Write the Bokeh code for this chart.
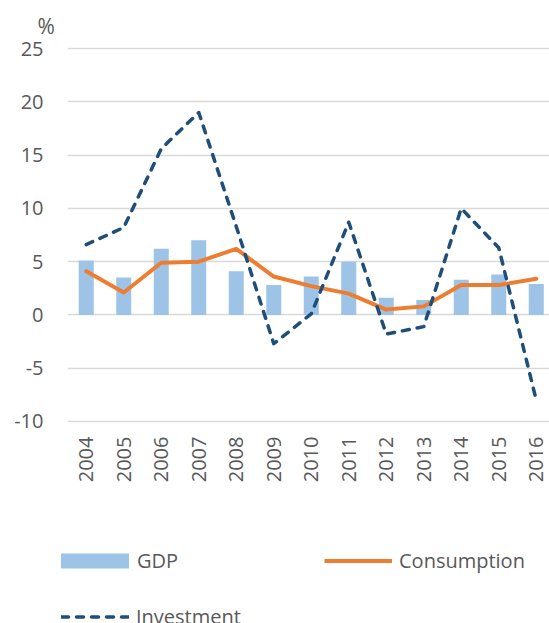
from math import pi
from bokeh.plotting import figure
from bokeh.layouts import column, row
from bokeh.models import Range1d, FixedTicker, Legend, LegendItem, ColumnDataSource
from bokeh.embed import file_html
from bokeh.resources import INLINE

# ---- data ----
years = [2004, 2005, 2006, 2007, 2008, 2009, 2010, 2011, 2012, 2013, 2014, 2015, 2016]
year_labels = [str(y) for y in years]
gdp = [5.1, 3.5, 6.2, 7.0, 4.1, 2.8, 3.6, 5.0, 1.6, 1.4, 3.3, 3.8, 2.9]
consumption = [4.1, 2.1, 4.9, 5.0, 6.2, 3.6, 2.7, 2.0, 0.5, 0.8, 2.8, 2.8, 3.4]
investment = [6.6, 8.2, 15.6, 19.0, 8.3, -2.7, 0.1, 8.7, -1.8, -1.1, 10.0, 6.3, -8.0]
y_ticks = [-10, -5, 0, 5, 10, 15, 20, 25]
y_tick_labels = ["-10", "-5", "0", "5", "10", "15", "20", "25"]
series_names = ["GDP", "Consumption", "Investment"]

FONT = "Open Sans"
TXT = "#595959"
C_GDP, C_CONS, C_INV = "#9DC3E6", "#ED7D31", "#1F4E79"

src = ColumnDataSource(dict(year=years, gdp=gdp, consumption=consumption, investment=investment))

p = figure(width=549, height=490,
           x_range=Range1d(years[0] - 0.5, years[-1] + 0.353),
           y_range=Range1d(y_ticks[0] - 0.1, y_ticks[-1] + 0.1),
           output_backend="svg", toolbar_location=None,
           min_border_left=67, min_border_right=0,
           min_border_top=47, min_border_bottom=68)

p.outline_line_color = None
p.background_fill_color = "white"
p.border_fill_color = "white"

# title "%"
p.title.text = "%"
p.title.align = "left"
p.title.offset = -30
p.title.text_font = FONT
p.title.text_font_size = "21px"
p.title.text_font_style = "normal"
p.title.text_color = TXT
p.title.standoff = 16

p.vbar(x="year", top="gdp", bottom=0, width=0.4, source=src,
       fill_color=C_GDP, line_color=None)
p.line(x="year", y="consumption", source=src, line_color=C_CONS,
       line_width=4, line_join="round", line_cap="round")
p.line(x="year", y="investment", source=src, line_color=C_INV,
       line_width=3.5, line_dash="7 8", line_join="round", line_cap="round")

# grid
p.xgrid.visible = False
p.ygrid.ticker = FixedTicker(ticks=y_ticks)
p.ygrid.grid_line_color = "#D9D9D9"
p.ygrid.grid_line_width = 1.5

# axes
p.yaxis.ticker = FixedTicker(ticks=y_ticks)
p.yaxis.major_label_overrides = {t: s for t, s in zip(y_ticks, y_tick_labels)}
p.xaxis.ticker = FixedTicker(ticks=years)
p.xaxis.major_label_overrides = {y: s for y, s in zip(years, year_labels)}
p.xaxis.major_label_orientation = pi / 2
for ax in (p.xaxis, p.yaxis):
    ax.axis_line_color = None
    ax.major_tick_line_color = None
    ax.minor_tick_line_color = None
    ax.major_tick_out = 0
    ax.major_tick_in = 0
    ax.major_label_text_font = FONT
    ax.major_label_text_font_size = "20px"
    ax.major_label_text_color = TXT
p.yaxis.major_label_standoff = 24
p.xaxis.major_label_standoff = 14

# ---- legend strip below the chart (its glyphs fall outside its own range) ----
lg = figure(width=549, height=133, x_range=Range1d(0, 1), y_range=Range1d(0, 1),
            output_backend="svg", toolbar_location=None,
            min_border=0, min_border_left=0, min_border_right=0,
            min_border_top=0, min_border_bottom=0)
lg.axis.visible = False
lg.grid.visible = False
lg.outline_line_color = None
lg.background_fill_color = "white"
lg.border_fill_color = "white"
r_gdp = lg.vbar(x="year", top="gdp", width=0.4, source=src, fill_color=C_GDP, line_color=None)
r_cons = lg.line(x="year", y="consumption", source=src, line_color=C_CONS, line_width=4)
r_inv = lg.line(x="year", y="investment", source=src, line_color=C_INV, line_width=3.5,
                line_dash="7 8", line_cap="round")

common = dict(orientation="vertical", padding=0, margin=0, spacing=0,
              label_height=27, border_line_color=None,
              background_fill_alpha=0, label_text_font=FONT, label_text_font_size="20px",
              label_text_color=TXT, label_text_baseline="middle")
leg_gdp = Legend(items=[LegendItem(label=series_names[0], renderers=[r_gdp])],
                 location=(52, 49), glyph_width=85, glyph_height=19, label_standoff=0, **common)
leg_cons = Legend(items=[LegendItem(label=series_names[1], renderers=[r_cons])],
                  location=(324, 49), glyph_width=68, glyph_height=15, label_standoff=7, **common)
leg_inv = Legend(items=[LegendItem(label=series_names[2], renderers=[r_inv])],
                 location=(61, -7), glyph_width=68, glyph_height=15, label_standoff=7, **common)
lg.add_layout(leg_gdp)
lg.add_layout(leg_cons)
lg.add_layout(leg_inv)

layout = column(p, row(lg, spacing=0), spacing=0)
open("out.html", "w").write(file_html(layout, INLINE))
